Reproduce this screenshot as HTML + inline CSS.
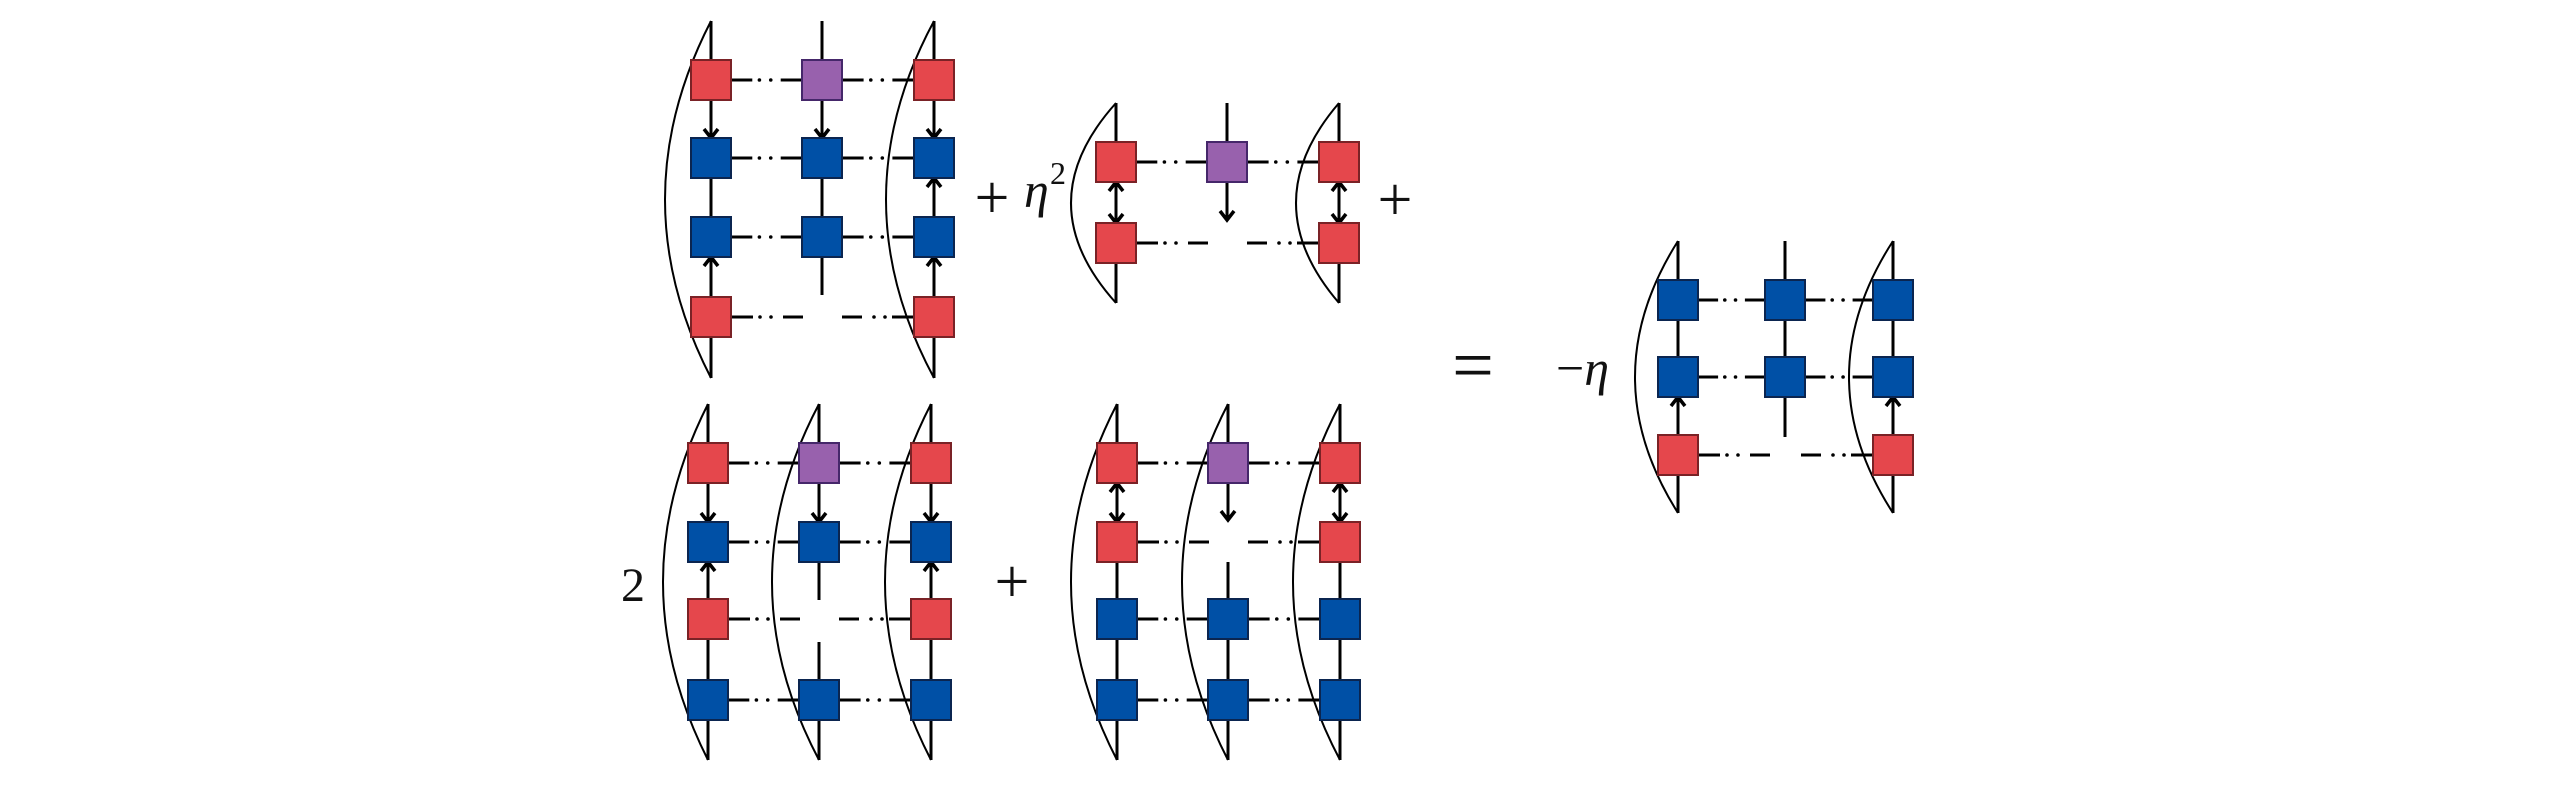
<!DOCTYPE html>
<html><head><meta charset="utf-8"><style>
html,body{margin:0;padding:0;background:#fff;}
svg{display:block;}
text{font-family:"Liberation Serif","DejaVu Serif",serif;fill:#111;}
</style></head><body>
<svg id="s" width="2567" height="787" viewBox="0 0 2567 787" xmlns="http://www.w3.org/2000/svg">
<text x="992" y="218" font-size="62" text-anchor="middle">+</text>
<text x="1024" y="207" font-size="50" font-style="italic">η</text>
<text x="1050" y="184" font-size="32">2</text>
<text x="1395" y="220" font-size="62" text-anchor="middle">+</text>
<text x="633" y="601" font-size="48" text-anchor="middle">2</text>
<text x="1012" y="602" font-size="62" text-anchor="middle">+</text>
<text x="1473" y="390" font-size="74" text-anchor="middle">=</text>
<text x="1556" y="385" font-size="50">−<tspan font-style="italic">η</tspan></text>
</svg>
<script>
const s=document.getElementById('s');
const NS='http://www.w3.org/2000/svg';
function el(t,a){const e=document.createElementNS(NS,t);for(const k in a)e.setAttribute(k,a[k]);s.appendChild(e);return e;}
const H=20;
const C={r:['#e5474c','#7a2226'],b:['#0050a6','#0b2550'],p:['#9861ad','#45276a']};
function line(x1,y1,x2,y2,w){el('line',{x1,y1,x2,y2,stroke:'#000','stroke-width':w||3});}
function arc(x,top,bot,bul){const c=2*bul-x;el('path',{d:`M${x},${top} Q${c},${(top+bot)/2} ${x},${bot}`,fill:'none',stroke:'#000','stroke-width':2});}
function sq(x,y,c){el('rect',{x:x-H,y:y-H,width:2*H,height:2*H,fill:C[c][0],stroke:C[c][1],'stroke-width':2});}
function head(x,y,dir){const d=dir;el('path',{d:`M${x-7},${y-9*d} L${x},${y} L${x+7},${y-9*d}`,fill:'none',stroke:'#000','stroke-width':3.5});}
function half(x1,y){
  line(x1,y,x1+22,y);el('circle',{cx:x1+29,cy:y,r:1.8,fill:'#000'});el('circle',{cx:x1+40,cy:y,r:1.8,fill:'#000'});line(x1+52,y,x1+72,y);}
function halfR(x2,y){
  line(x2-72,y,x2-52,y);el('circle',{cx:x2-40,cy:y,r:1.8,fill:'#000'});el('circle',{cx:x2-29,cy:y,r:1.8,fill:'#000'});line(x2-22,y,x2,y);}
function hconn(xa,xb,y){const a=xa+H,b=xb-H,L=b-a;
  line(a,y,a+L*0.3,y);el('circle',{cx:a+L*0.4,cy:y,r:1.8,fill:'#000'});el('circle',{cx:a+L*0.56,cy:y,r:1.8,fill:'#000'});line(a+L*0.7,y,b,y);}
function gapconn(xa,xb,y){half(xa+H,y);halfR(xb-H,y);}
function vconn(x,y1,y2,t){const a=y1+H,b=y2-H;line(x,a,x,b);
  if(t=='d'||t=='b')head(x,b,1);if(t=='u'||t=='b')head(x,a,-1);}

(function(){const X=[711,822,934],Y=[80,158,237,317],T=21,B=378;
 line(X[0],T,X[0],B);line(X[2],T,X[2],B);line(X[1],T,X[1],Y[2]);line(X[1],Y[2],X[1],295);
 arc(X[0],T,B,665);arc(X[2],T,B,886);
 vconn(X[0],Y[0],Y[1],'d');vconn(X[1],Y[0],Y[1],'d');vconn(X[2],Y[0],Y[1],'d');
 vconn(X[0],Y[1],Y[2],'l');vconn(X[1],Y[1],Y[2],'l');vconn(X[2],Y[1],Y[2],'u');
 vconn(X[0],Y[2],Y[3],'u');vconn(X[2],Y[2],Y[3],'u');
 for(let i=0;i<3;i++){hconn(X[0],X[1],Y[i]);hconn(X[1],X[2],Y[i]);}
 gapconn(X[0],X[2],Y[3]);
 const g=[['r','p','r'],['b','b','b'],['b','b','b'],['r',null,'r']];
 g.forEach((r,i)=>r.forEach((c,j)=>{if(c)sq(X[j],Y[i],c);}));
})();
(function(){const X=[1116,1227,1339],Y=[162,243],T=103,B=303;
 line(X[0],T,X[0],B);line(X[2],T,X[2],B);line(X[1],T,X[1],Y[0]);
 arc(X[0],T,B,1071);arc(X[2],T,B,1296);
 vconn(X[0],Y[0],Y[1],'b');vconn(X[2],Y[0],Y[1],'b');
 line(X[1],Y[0]+H,X[1],220);head(X[1],220,1);
 hconn(X[0],X[1],Y[0]);hconn(X[1],X[2],Y[0]);gapconn(X[0],X[2],Y[1]);
 sq(X[0],Y[0],'r');sq(X[1],Y[0],'p');sq(X[2],Y[0],'r');sq(X[0],Y[1],'r');sq(X[2],Y[1],'r');
})();
(function(){const X=[708,819,931],Y=[463,542,619,700],T=404,B=760;
 line(X[0],T,X[0],B);line(X[2],T,X[2],B);line(X[1],T,X[1],Y[1]);line(X[1],Y[1],X[1],600);line(X[1],642,X[1],B);
 arc(X[0],T,B,663);arc(X[1],T,B,772);arc(X[2],T,B,885);
 vconn(X[0],Y[0],Y[1],'d');vconn(X[1],Y[0],Y[1],'d');vconn(X[2],Y[0],Y[1],'d');
 vconn(X[0],Y[1],Y[2],'u');vconn(X[2],Y[1],Y[2],'u');
 vconn(X[0],Y[2],Y[3],'l');vconn(X[2],Y[2],Y[3],'l');
 [0,1,3].forEach(i=>{hconn(X[0],X[1],Y[i]);hconn(X[1],X[2],Y[i]);});
 gapconn(X[0],X[2],Y[2]);
 const g=[['r','p','r'],['b','b','b'],['r',null,'r'],['b','b','b']];
 g.forEach((r,i)=>r.forEach((c,j)=>{if(c)sq(X[j],Y[i],c);}));
})();
(function(){const X=[1117,1228,1340],Y=[463,542,619,700],T=404,B=760;
 line(X[0],T,X[0],B);line(X[2],T,X[2],B);line(X[1],T,X[1],Y[0]);line(X[1],562,X[1],B);
 arc(X[0],T,B,1071);arc(X[1],T,B,1182);arc(X[2],T,B,1293);
 vconn(X[0],Y[0],Y[1],'b');vconn(X[2],Y[0],Y[1],'b');
 line(X[1],Y[0]+H,X[1],520);head(X[1],520,1);
 [0,2,3].forEach(i=>{hconn(X[0],X[1],Y[i]);hconn(X[1],X[2],Y[i]);});
 gapconn(X[0],X[2],Y[1]);
 const g=[['r','p','r'],['r',null,'r'],['b','b','b'],['b','b','b']];
 g.forEach((r,i)=>r.forEach((c,j)=>{if(c)sq(X[j],Y[i],c);}));
})();
(function(){const X=[1678,1785,1893],Y=[300,377,455],T=241,B=513;
 line(X[0],T,X[0],B);line(X[2],T,X[2],B);line(X[1],T,X[1],437);
 arc(X[0],T,B,1635);arc(X[2],T,B,1849);
 vconn(X[0],Y[1],Y[2],'u');vconn(X[2],Y[1],Y[2],'u');
 [0,1].forEach(i=>{hconn(X[0],X[1],Y[i]);hconn(X[1],X[2],Y[i]);});
 gapconn(X[0],X[2],Y[2]);
 const g=[['b','b','b'],['b','b','b'],['r',null,'r']];
 g.forEach((r,i)=>r.forEach((c,j)=>{if(c)sq(X[j],Y[i],c);}));
})();
</script>
</body></html>
